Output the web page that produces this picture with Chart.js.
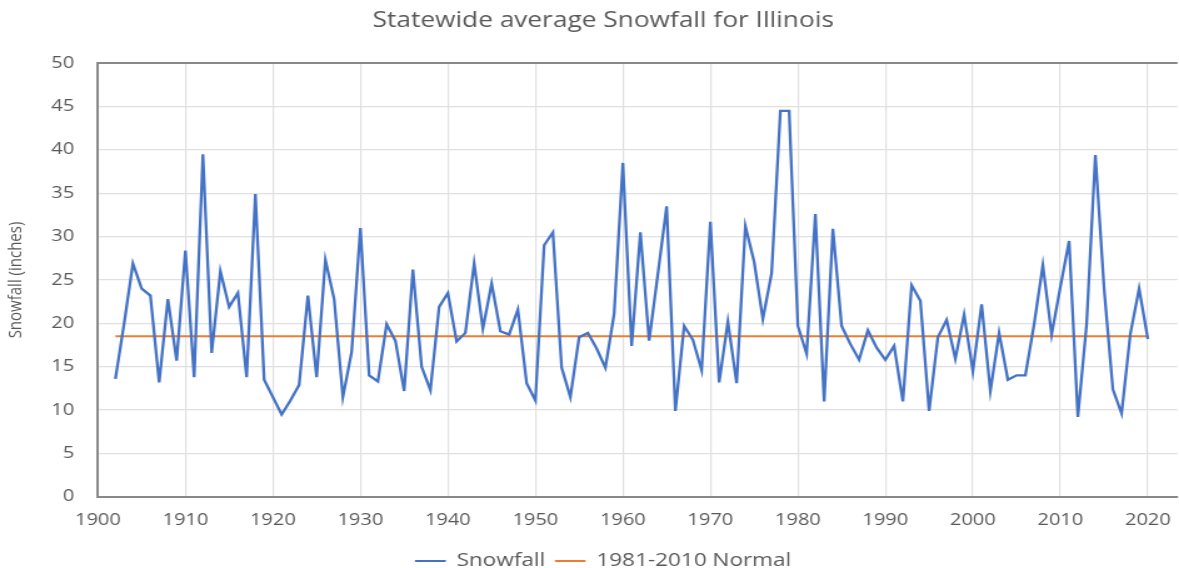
<!DOCTYPE html>
<html>
<head>
<meta charset="utf-8">
<title>Statewide average Snowfall for Illinois</title>
<script src="https://cdn.jsdelivr.net/npm/chart.js@4.4.1/dist/chart.umd.min.js"></script>
<style>
  html, body { margin: 0; padding: 0; background: #fff; overflow: hidden; }
  /* the reference image is a horizontally stretched Excel chart, so draw narrow and stretch */
  #wrap { width: 943px; height: 568px; position: relative; transform: scaleX(1.2503); transform-origin: 0 0; }
</style>
</head>
<body>
<div id="wrap"><canvas id="snowChart"></canvas></div>
<script>
// years on the x axis
const years = [
  1902, 1903, 1904, 1905, 1906, 1907, 1908, 1909, 1910, 1911,
  1912, 1913, 1914, 1915, 1916, 1917, 1918, 1919, 1920, 1921,
  1922, 1923, 1924, 1925, 1926, 1927, 1928, 1929, 1930, 1931,
  1932, 1933, 1934, 1935, 1936, 1937, 1938, 1939, 1940, 1941,
  1942, 1943, 1944, 1945, 1946, 1947, 1948, 1949, 1950, 1951,
  1952, 1953, 1954, 1955, 1956, 1957, 1958, 1959, 1960, 1961,
  1962, 1963, 1964, 1965, 1966, 1967, 1968, 1969, 1970, 1971,
  1972, 1973, 1974, 1975, 1976, 1977, 1978, 1979, 1980, 1981,
  1982, 1983, 1984, 1985, 1986, 1987, 1988, 1989, 1990, 1991,
  1992, 1993, 1994, 1995, 1996, 1997, 1998, 1999, 2000, 2001,
  2002, 2003, 2004, 2005, 2006, 2007, 2008, 2009, 2010, 2011,
  2012, 2013, 2014, 2015, 2016, 2017, 2018, 2019, 2020
];

// snowfall in inches
const snowfall = [
  13.6, 20.0, 26.9, 24.0, 23.2, 13.2, 22.8, 15.7, 28.4, 13.8,
  39.5, 16.6, 26.0, 21.9, 23.5, 13.8, 34.9, 13.5, 11.5, 9.5,
  11.1, 12.9, 23.2, 13.8, 27.3, 22.8, 11.5, 16.7, 31.0, 14.0,
  13.3, 19.9, 18.0, 12.2, 26.2, 15.0, 12.3, 21.9, 23.5, 17.9,
  18.9, 26.9, 19.4, 24.6, 19.1, 18.7, 21.6, 13.1, 11.1, 29.0,
  30.5, 14.9, 11.5, 18.4, 18.9, 17.1, 14.9, 21.1, 38.5, 17.4,
  30.5, 18.0, 25.7, 33.5, 9.9, 19.7, 18.1, 14.6, 31.7, 13.2,
  20.2, 13.1, 31.2, 27.1, 20.5, 25.8, 44.5, 44.5, 19.7, 16.5,
  32.6, 11.0, 30.9, 19.7, 17.6, 15.8, 19.2, 17.2, 15.8, 17.4,
  11.0, 24.4, 22.6, 9.9, 18.4, 20.4, 15.9, 21.0, 14.5, 22.2,
  12.2, 18.9, 13.5, 14.0, 14.0, 19.9, 26.7, 18.7, 24.2, 29.5,
  9.2, 19.9, 39.4, 24.0, 12.4, 9.6, 18.8, 24.0, 18.2
];

// 1981-2010 normal line
const normalYears = [1902, 2020];
const normalValues = [18.5, 18.5];

const xTicks = [1900, 1910, 1920, 1930, 1940, 1950, 1960, 1970, 1980, 1990, 2000, 2010, 2020];

const textColor = '#595959';
const axisColor = '#898989';
const gridColor = '#e0e0e0';
const fontFamily = "'Open Sans', sans-serif";

const snowPoints = years.map((y, i) => ({ x: y, y: snowfall[i] }));
const normalPoints = normalYears.map((y, i) => ({ x: y, y: normalValues[i] }));

// title and legend sit a bit right of centre in the reference
const nudgeBoxes = {
    id: 'nudgeBoxes',
    afterLayout: function (chart) {
        [chart.titleBlock, chart.legend].forEach(function (box) {
            if (box) {
                box.left += 10;
                box.right += 10;
            }
        });
    }
};

const config = {
    type: 'line',
    data: {
        datasets: [{
            label: 'Snowfall',
            data: snowPoints,
            borderColor: '#4472C4',
            backgroundColor: '#4472C4',
            borderWidth: 2.3,
            pointRadius: 0,
            tension: 0
        }, {
            label: '1981-2010 Normal',
            data: normalPoints,
            borderColor: '#ED7D31',
            backgroundColor: '#ED7D31',
            borderWidth: 2,
            pointRadius: 0
        }]
    },
    options: {
        responsive: true,
        maintainAspectRatio: false,
        animation: false,
        layout: {
            padding: { left: 2, right: 0, top: 0, bottom: -12 }
        },
        plugins: {
            title: {
                display: true,
                text: 'Statewide average Snowfall for Illinois',
                color: textColor,
                font: { family: fontFamily, size: 21, weight: 'normal' },
                padding: { top: 8, bottom: 30 }
            },
            legend: {
                position: 'bottom',
                labels: {
                    color: textColor,
                    font: { family: fontFamily, size: 18 },
                    boxWidth: 24,
                    boxHeight: 1,
                    padding: 8,
                    generateLabels: function (chart) {
                        return Chart.defaults.plugins.legend.labels.generateLabels(chart)
                            .map(item => Object.assign(item, { lineWidth: 1 }));
                    }
                }
            },
            tooltip: { enabled: false }
        },
        scales: {
            x: {
                type: 'linear',
                min: 1900,
                max: 2023.4,
                afterBuildTicks: function (scale) {
                    scale.ticks = xTicks.map(v => ({ value: v }));
                },
                afterFit: function (scale) {
                    // let the plot run to the right edge like the reference
                    scale.paddingRight = 0;
                },
                ticks: {
                    color: textColor,
                    font: { family: fontFamily, size: 16 },
                    padding: 14,
                    maxRotation: 0,
                    callback: v => String(v)
                },
                grid: {
                    color: gridColor,
                    lineWidth: 1.2,
                    drawTicks: false
                },
                border: { color: axisColor, width: 2 }
            },
            y: {
                min: 0,
                max: 50,
                ticks: {
                    stepSize: 5,
                    color: textColor,
                    font: { family: fontFamily, size: 16 },
                    padding: 19
                },
                grid: {
                    color: ctx => (ctx.tick && ctx.tick.value === 50) ? axisColor : gridColor,
                    lineWidth: ctx => (ctx.tick && ctx.tick.value === 50) ? 2 : 1.2,
                    drawTicks: false
                },
                border: { color: axisColor, width: 2 },
                title: {
                    display: true,
                    text: 'Snowfall (inches)',
                    color: textColor,
                    font: { family: "'Liberation Sans Narrow', 'Open Sans', sans-serif", size: 15 },
                    padding: { top: 2, bottom: 0 }
                }
            }
        }
    },
    plugins: [nudgeBoxes]
};

const snowChart = new Chart(document.getElementById('snowChart'), config);
</script>
</body>
</html>
